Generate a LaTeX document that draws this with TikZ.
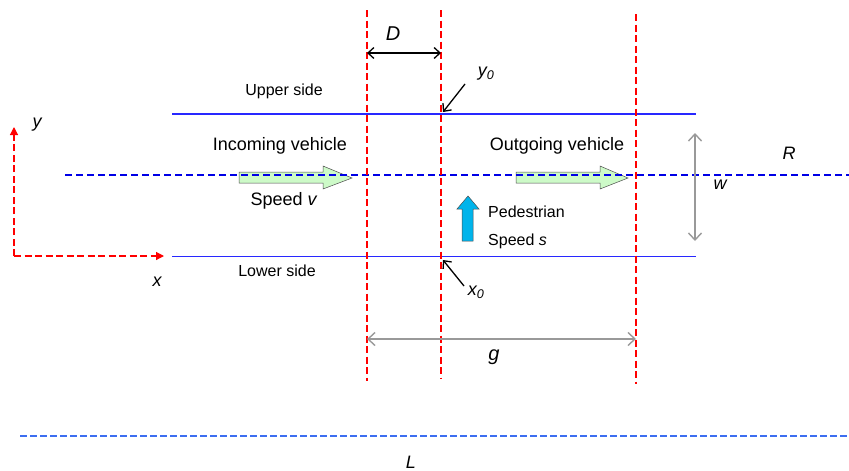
\documentclass[tikz,border=0pt]{standalone}
\usepackage{fontspec}
\setmainfont{Liberation Sans}
\usetikzlibrary{arrows.meta}
\definecolor{roadblue}{RGB}{0,0,230}
\definecolor{sideblue}{RGB}{40,40,255}
\definecolor{lblue}{RGB}{60,110,240}
\definecolor{pedblue}{RGB}{0,180,235}
\definecolor{vgreen}{RGB}{205,250,200}
\tikzset{
  redline/.style={draw=red, line width=1.2pt, dash pattern=on 7pt off 3.5pt},
  sideline/.style={draw=sideblue, line width=1.5pt},
  centerline/.style={draw=roadblue, line width=1.2pt, dash pattern=on 7pt off 4pt},
  grayarr/.style={draw=gray!80, line width=1.4pt, {Straight Barb[length=7pt,width=13pt]}-{Straight Barb[length=7pt,width=13pt]}},
  blackarr/.style={draw=black, line width=1.3pt},
  lbl/.style={font=\fontsize{18}{20}\selectfont\itshape, inner sep=0pt},
  biglbl/.style={font=\fontsize{20}{22}\selectfont\itshape, inner sep=0pt},
  txt/.style={font=\fontsize{18}{20}\selectfont, inner sep=0pt},
  small/.style={font=\fontsize{16}{18}\selectfont, inner sep=0pt},
  vehicle/.style={draw=black!70, fill=vgreen, line width=0.5pt},
}
\begin{document}
\begin{tikzpicture}[x=1pt,y=-1pt]
\useasboundingbox (0,0) rectangle (849,471);
% coordinates
\coordinate (r1t) at (367,10); \coordinate (r1b) at (367,381);
\coordinate (r2t) at (441,10); \coordinate (r2b) at (441,378);
\coordinate (r3t) at (636,14); \coordinate (r3b) at (636,384);
% road sides
\coordinate (ul) at (172,114); \coordinate (ur) at (696,114);
\coordinate (ll) at (172,256.6); \coordinate (lr) at (696,256.6);
\draw[sideline] (ul) -- (ur);
\draw[sideline] (ll) -- (lr);
% vehicle arrows
\draw[vehicle] (239,172) -- (323,172) -- (323,166) -- (352,178) -- (323,189) -- (323,183) -- (239,183) -- cycle;
\draw[vehicle] (516,172) -- (600,172) -- (600,166) -- (628,178) -- (600,189) -- (600,183) -- (516,183) -- cycle;
% center line
\coordinate (cl) at (65,175); \coordinate (cr) at (849,175);
\draw[centerline] (cl) -- (cr);
% bottom line
\coordinate (bl) at (20,436); \coordinate (br) at (849,436);
\draw[draw=lblue, line width=1.5pt, dash pattern=on 7pt off 3pt] (bl) -- (br);
% pedestrian arrow
\draw[draw=black!70, fill=pedblue, line width=0.5pt] (462,241) -- (462,209) -- (457,209) -- (468,196) -- (479,209) -- (473,209) -- (473,241) -- cycle;
% red verticals
\draw[redline] (r1t) -- (r1b);
\draw[redline] (r2t) -- (r2b);
\draw[redline] (r3t) -- (r3b);
% axes
\coordinate (ax0) at (14,256); \coordinate (axy) at (14,127); \coordinate (axx) at (164,256);
\draw[redline, -{Triangle[length=8pt,width=8pt]}] (ax0) -- (axy);
\draw[redline, -{Triangle[length=8pt,width=8pt]}] (ax0) -- (axx);
\node[lbl] (ylab) at (37,125) {y};
\node[lbl] (xlab) at (157,282) {x};
% D arrow
\coordinate (d1) at (367,53); \coordinate (d2) at (441,53);
\draw[blackarr, {Straight Barb[length=6pt,width=11pt]}-{Straight Barb[length=6pt,width=11pt]}] (d1) -- (d2);
\node[biglbl] (D) at (393,34) {D};
% y0 pointer
\node[lbl] (y0) at (486,74) {y\textsubscript{0}};
\coordinate (y0s) at (465,84); \coordinate (y0e) at (443,112);
\draw[blackarr, -{Straight Barb[length=6pt,width=11pt]}] (y0s) -- (y0e);
% x0 pointer
\node[lbl] (x0) at (476,292) {x\textsubscript{0}};
\coordinate (x0s) at (464,286); \coordinate (x0e) at (443,260);
\draw[blackarr, -{Straight Barb[length=6pt,width=11pt]}] (x0s) -- (x0e);
% labels
\node[small] (upper) at (284,91) {Upper side};
\node[small] (lower) at (277,271) {Lower side};
\node[txt] (inc) at (280,146) {Incoming vehicle};
\node[txt] (out) at (557,146) {Outgoing vehicle};
\node[txt] (spv) at (284,201) {Speed \textit{v}};
\node[small, anchor=west] (ped) at (488,212) {Pedestrian};
\node[small, anchor=west] (sps) at (488,241) {Speed \textit{s}};
% w arrow
\coordinate (w1) at (695,133); \coordinate (w2) at (695,241);
\draw[grayarr] (w1) -- (w2);
\node[lbl] (w) at (720,185) {w};
\node[lbl] (R) at (789,153) {R};
% g arrow
\coordinate (g1) at (367,339); \coordinate (g2) at (636,339);
\draw[grayarr] (g1) -- (g2);
\node[biglbl] (g) at (494,357) {g};
\node[lbl] (L) at (411,462) {L};
\end{tikzpicture}
\end{document}
